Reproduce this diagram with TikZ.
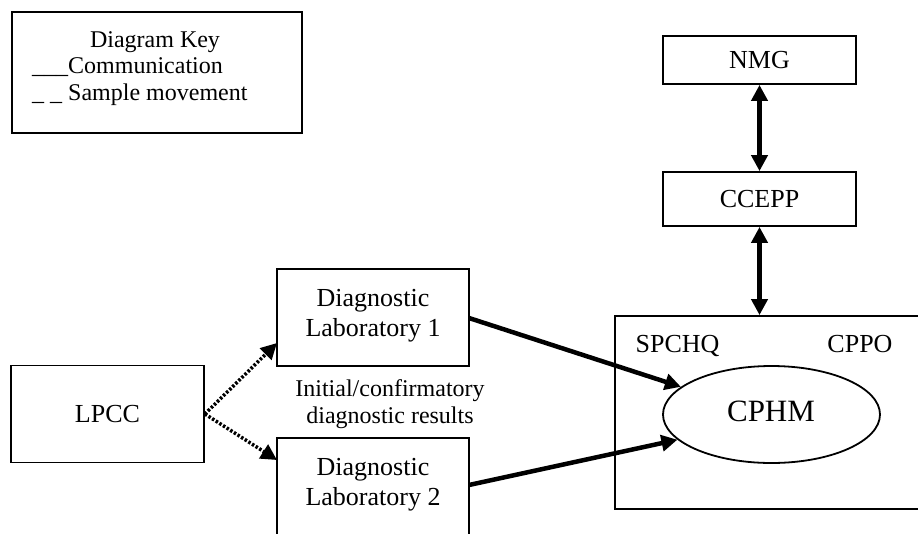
\documentclass[tikz,border=0pt]{standalone}
\usepackage{fontspec}
\setmainfont{Liberation Serif}
\usetikzlibrary{arrows.meta,shapes.geometric}
\begin{document}
\begin{tikzpicture}[x=1pt,y=-1pt,
  box/.style={draw,line width=1.8pt,inner sep=0pt},
  txt/.style={font=\fontsize{26}{30}\selectfont,align=center,inner sep=0pt},
  small/.style={font=\fontsize{24}{27}\selectfont,inner sep=0pt},
  comm/.style={line width=4.5pt,-{Triangle[length=16pt,width=16pt]}},
  commboth/.style={line width=4.5pt,{Triangle[length=16pt,width=16pt]}-{Triangle[length=16pt,width=16pt]}},
  sample/.style={line width=3.5pt,dash pattern=on 2.5pt off 1.8pt,-{Triangle[length=16pt,width=16pt]}}]
\useasboundingbox (0,0) rectangle (918,533);
\fill[white] (0,0) rectangle (918,533);
% key
\node[box,minimum width=290pt,minimum height=121pt] (key) at (157,72.5) {};
\node[small,anchor=base] (keyt) at (155,47) {Diagram Key};
\node[small,anchor=base west] (keyc) at (32,73) {\_\_\_Communication};
\node[small,anchor=base west] (keys) at (32,100) {\_ \_ Sample movement};
% nodes
\node[box,minimum width=193pt,minimum height=97pt] (lpcc) at (107.5,414) {};
\node[txt] (lpcct) at (lpcc) {LPCC};
\node[box,minimum width=192pt,minimum height=97pt] (dl1) at (373,317.5) {};
\node[txt] (dl1t) at (373,316) {Diagnostic\\Laboratory 1};
\node[box,minimum width=192pt,minimum height=97pt] (dl2) at (373,486.5) {};
\node[txt] (dl2t) at (373,485) {Diagnostic\\Laboratory 2};
\node[small,align=center] (lbl) at (390,404) {Initial/confirmatory\\diagnostic results};
\node[box,minimum width=193pt,minimum height=48pt] (nmg) at (759.5,60) {};
\node[txt] (nmgt) at (nmg) {NMG};
\node[box,minimum width=193pt,minimum height=54pt] (ccepp) at (759.5,199) {};
\node[txt] (cceppt) at (ccepp) {CCEPP};
\node[box,minimum width=310pt,minimum height=193pt] (big) at (770,412.5) {};
\node[txt,anchor=base] (spchq) at (677.5,352) {SPCHQ};
\node[txt,anchor=base] (cppo) at (860,352) {CPPO};
\node[draw,line width=1.8pt,ellipse,minimum width=217pt,minimum height=97pt,inner sep=0pt] (cphm) at (771.5,414.5) {};
\node[txt,font=\fontsize{31}{34}\selectfont] (cphmt) at (771,411) {CPHM};
% connectors
\coordinate (t1) at (277,343);
\coordinate (t2) at (277,460);
\draw[sample] (lpcc.east) -- (t1);
\draw[sample] (lpcc.east) -- (t2);
\coordinate (d1s) at (469,318);
\coordinate (d2s) at (469,485);
\draw[comm] (d1s) -- (cphm.163);
\draw[comm] (d2s) -- (cphm.195);
\draw[commboth] (nmg.south) -- (ccepp.north);
\draw[commboth] (ccepp.south) -- (ccepp.south |- big.north);
\end{tikzpicture}
\end{document}
